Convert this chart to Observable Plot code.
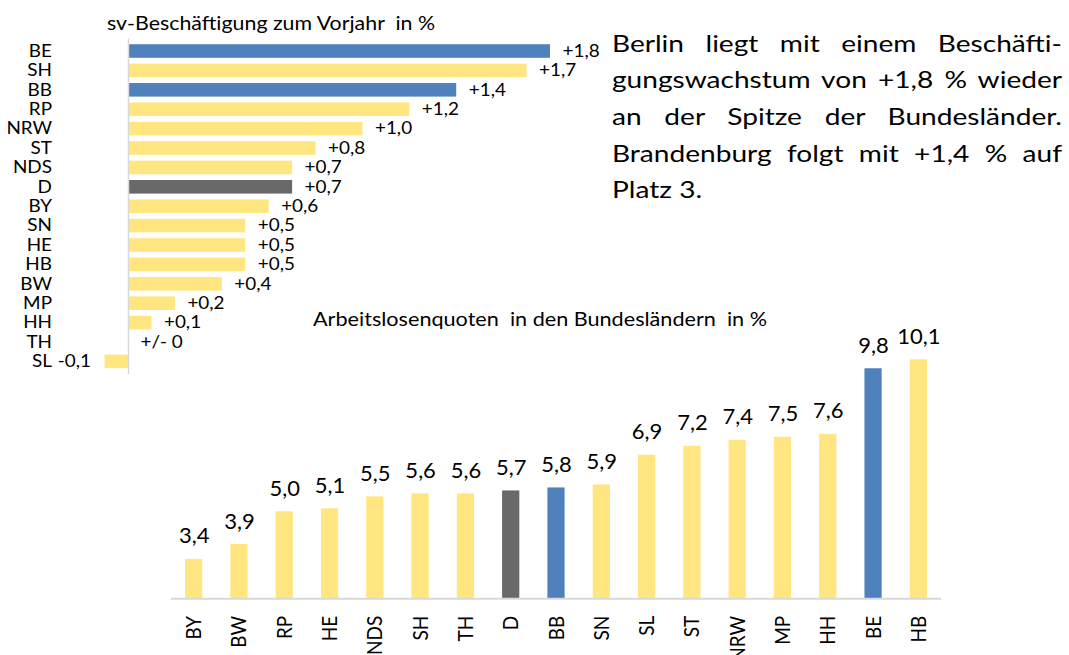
<!DOCTYPE html>
<html><head><meta charset="utf-8">
<script src="https://cdn.jsdelivr.net/npm/d3@7"></script>
<script src="https://cdn.jsdelivr.net/npm/@observablehq/plot@0.6"></script>
<style>
body{margin:0;background:#fff;font-family:Lato,"Open Sans",sans-serif;color:#000;}
#page{position:relative;width:1069px;height:655px;overflow:hidden;background:#fff;}
.abs{position:absolute;}
.title{position:absolute;white-space:pre;line-height:1;color:#000;transform-origin:0 0;}
#para{position:absolute;left:612px;top:24.6px;font-size:24px;line-height:36.7px;transform-origin:0 0;}
#para div{text-align:justify;text-align-last:justify;white-space:nowrap;}
#para div.last{text-align:left;text-align-last:left;}
</style></head><body>
<div id="page">
  <div id="chart1" class="abs" style="left:0;top:0"></div>
  <div id="chart2" class="abs" style="left:0;top:300px"></div>
  <div id="t1" class="title" style="left:107px;top:11.6px;font-size:20px"></div>
  <div id="t2" class="title" style="left:313px;top:309.4px;font-size:19.5px"></div>
  <div id="para"></div>
</div>
<script>
// ---- data ----
const empTitle = "sv-Beschäftigung zum Vorjahr  in %";
const empStates = ["BE","SH","BB","RP","NRW","ST","NDS","D","BY","SN","HE","HB","BW","MP","HH","TH","SL"];
const empValues = [1.8,1.7,1.4,1.2,1.0,0.8,0.7,0.7,0.6,0.5,0.5,0.5,0.4,0.2,0.1,0,-0.1];
const empLabels = ["+1,8","+1,7","+1,4","+1,2","+1,0","+0,8","+0,7","+0,7","+0,6","+0,5","+0,5","+0,5","+0,4","+0,2","+0,1","+/- 0","-0,1"];

const uneTitle = "Arbeitslosenquoten  in den Bundesländern  in %";
const uneStates = ["BY","BW","RP","HE","NDS","SH","TH","D","BB","SN","SL","ST","NRW","MP","HH","BE","HB"];
const uneValues = [3.4,3.9,5.0,5.1,5.5,5.6,5.6,5.7,5.8,5.9,6.9,7.2,7.4,7.5,7.6,9.8,10.1];
const uneLabels = ["3,4","3,9","5,0","5,1","5,5","5,6","5,6","5,7","5,8","5,9","6,9","7,2","7,4","7,5","7,6","9,8","10,1"];

const paraLines = [
  "Berlin liegt mit einem Beschäfti-",
  "gungswachstum von +1,8 % wieder",
  "an der Spitze der Bundesländer.",
  "Brandenburg folgt mit +1,4 % auf",
  "Platz 3."
];

const blueStates = ["BE","BB"];
const nationalState = "D";
const colBlue = "#4F81BD", colYellow = "#FFE680", colGray = "#696969";
const colorOf = s => blueStates.includes(s) ? colBlue : (s === nationalState ? colGray : colYellow);

// horizontal text stretch (reference typeface is wider than the available one)
function stretchTexts(root, selector, S) {
  root.querySelectorAll(selector).forEach(t => {
    const tr = t.getAttribute("transform") || "";
    const m = tr.match(/^translate\(([^)]*)\)/);
    if (m) {
      t.setAttribute("transform", `translate(${m[1]}) scale(${S},1)` + tr.slice(m[0].length));
    } else {
      const x = +(t.getAttribute("x") || 0), y = +(t.getAttribute("y") || 0);
      t.setAttribute("transform", `translate(${x},${y}) scale(${S},1) translate(${-x},${-y})` + (tr ? " " + tr : ""));
    }
  });
}

// ---- chart 1: horizontal bars ----
const emp = empStates.map((s,i)=>({state:s, value:empValues[i], label:empLabels[i]}));
const W1 = 600, ML1 = 56, X0 = 128, K1 = 234.44;
const chart1 = Plot.plot({
  width: W1, height: 374,
  marginTop: 38.4, marginBottom: 0, marginLeft: ML1, marginRight: 0,
  x: {domain: [(ML1 - X0)/K1, (W1 - X0)/K1], axis: null},
  y: {domain: empStates, padding: 0.3, round: false, tickSize: 0, tickPadding: 4.5, label: null},
  color: {type: "identity"},
  style: {fontFamily: "Lato, 'Open Sans', sans-serif", fontSize: "16.3px", color: "#000", background: "transparent", overflow: "visible"},
  marks: [
    Plot.barX(emp, {y: "state", x: "value", fill: d => colorOf(d.state)}),
    Plot.ruleX([0], {stroke: "#d9d9d9", strokeWidth: 1.5}),
    Plot.text(emp.filter(d => d.value >= 0), {y: "state", x: "value", text: "label", textAnchor: "start", dx: 12, fill: "#000"}),
    Plot.text(emp.filter(d => d.value < 0), {y: "state", x: "value", text: "label", textAnchor: "end", dx: -14, fill: "#000"})
  ]
});
document.getElementById("chart1").appendChild(chart1);
stretchTexts(chart1, "text", 1.16);

// ---- chart 2: vertical bars ----
const une = uneStates.map((s,i)=>({state:s, value:uneValues[i], label:uneLabels[i]}));
const YMIN = 2.08;
const chart2 = Plot.plot({
  width: 1069, height: 355,
  marginTop: 32.5, marginBottom: 56.7, marginLeft: 171, marginRight: 128,
  x: {domain: uneStates, paddingInner: 0.62, paddingOuter: 0.31, round: false, tickSize: 0, tickPadding: 17, tickRotate: -90, label: null},
  y: {domain: [YMIN, 11], axis: null},
  color: {type: "identity"},
  style: {fontFamily: "Lato, 'Open Sans', sans-serif", fontSize: "19px", color: "#000", background: "transparent", overflow: "visible"},
  marks: [
    Plot.barY(une, {x: "state", y: "value", fill: d => colorOf(d.state), clip: true}),
    Plot.ruleY([YMIN], {stroke: "#d9d9d9", strokeWidth: 2}),
    Plot.text(une, {x: "state", y: "value", text: "label", lineAnchor: "bottom", dy: -16, fontSize: 22, fill: "#000"})
  ]
});
document.getElementById("chart2").appendChild(chart2);
stretchTexts(chart2, 'g[aria-label="x-axis tick label"] text', 1.15);

// ---- titles and paragraph ----
function fitWidth(el, target) {
  el.style.transform = "none";
  const w = el.getBoundingClientRect().width;
  if (w > 0) el.style.transform = `scaleX(${target / w})`;
}
const t1 = document.getElementById("t1"), t2 = document.getElementById("t2");
t1.textContent = empTitle;
t2.textContent = uneTitle;
const PS = 1.17;
const para = document.getElementById("para");
para.style.width = (450 / PS) + "px";
para.style.transform = `scaleX(${PS})`;
paraLines.forEach((l,i) => {
  const d = document.createElement("div");
  d.textContent = l;
  if (i === paraLines.length - 1) d.className = "last";
  para.appendChild(d);
});
const doFit = () => { fitWidth(t1, 328); fitWidth(t2, 454); };
doFit();
if (document.fonts && document.fonts.ready) document.fonts.ready.then(doFit);
</script>
</body></html>
